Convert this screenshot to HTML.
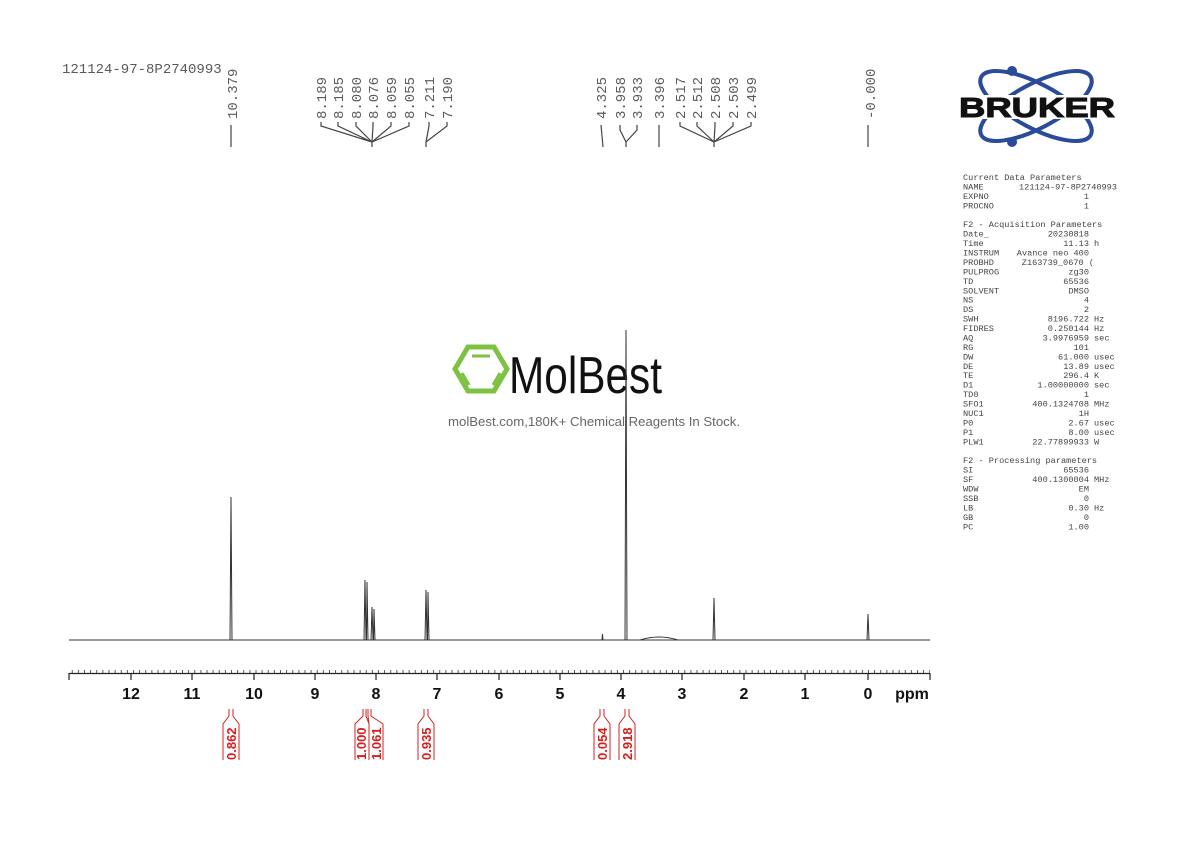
<!DOCTYPE html>
<html><head><meta charset="utf-8"><style>
html,body{margin:0;padding:0;background:#fff;}
svg{display:block;}
.pl{font-family:"Liberation Mono",monospace;font-size:14px;fill:#5a5a5a;}
.pp{font-family:"Liberation Mono",monospace;font-size:8.6px;fill:#444;}
.ax{font-family:"Liberation Sans",sans-serif;font-size:16px;font-weight:bold;fill:#111;}
.ig{font-family:"Liberation Sans",sans-serif;font-size:13px;font-weight:bold;fill:#d42020;}
</style></head><body>
<svg width="1190" height="842" viewBox="0 0 1190 842" xmlns="http://www.w3.org/2000/svg">
<defs>
<pattern id="mt" patternUnits="userSpaceOnUse" x="868" y="0" width="6.125" height="842">
<line x1="0.5" y1="670" x2="0.5" y2="673" stroke="#333" stroke-width="0.8"/>
</pattern>
</defs>
<text x="62" y="73" class="pl">121124-97-8P2740993</text>
<g stroke="#444" stroke-width="1.2" fill="none">
<path d="M231 125V147"/>
<path d="M321 122V126L372 142M338 122V126L372 142M356 122V126L372 142M373 122V126L372 142M391 122V126L372 142M409 122V126L372 142M372 142V147"/>
<path d="M429 122V126L426 142M447 122V126L426 142M426 142V147"/>
<path d="M601 125L603 147"/>
<path d="M620 125V130L626 142M637 125V130L626 142M626 142V147"/>
<path d="M659 125V147"/>
<path d="M680 122V126L714 142M697 122V126L714 142M715 122V126L714 142M733 122V126L714 142M751 122V126L714 142M714 142V147"/>
<path d="M868 125V147"/>
</g>
<g class="pl">
<text transform="translate(237,119) rotate(-90)">10.379</text>
<text transform="translate(326,119) rotate(-90)">8.189</text>
<text transform="translate(343,119) rotate(-90)">8.185</text>
<text transform="translate(361,119) rotate(-90)">8.080</text>
<text transform="translate(378,119) rotate(-90)">8.076</text>
<text transform="translate(396,119) rotate(-90)">8.059</text>
<text transform="translate(414,119) rotate(-90)">8.055</text>
<text transform="translate(434,119) rotate(-90)">7.211</text>
<text transform="translate(452,119) rotate(-90)">7.190</text>
<text transform="translate(606,119) rotate(-90)">4.325</text>
<text transform="translate(625,119) rotate(-90)">3.958</text>
<text transform="translate(642,119) rotate(-90)">3.933</text>
<text transform="translate(664,119) rotate(-90)">3.396</text>
<text transform="translate(685,119) rotate(-90)">2.517</text>
<text transform="translate(702,119) rotate(-90)">2.512</text>
<text transform="translate(720,119) rotate(-90)">2.508</text>
<text transform="translate(738,119) rotate(-90)">2.503</text>
<text transform="translate(756,119) rotate(-90)">2.499</text>
<text transform="translate(875,119) rotate(-90)">-0.000</text>
</g>
<!-- Bruker logo -->
<g>
<ellipse cx="1036" cy="106" rx="62" ry="22" transform="rotate(28 1036 106)" fill="none" stroke="#2a4b9b" stroke-width="4"/>
<ellipse cx="1036" cy="106" rx="62" ry="22" transform="rotate(-28 1036 106)" fill="none" stroke="#2a4b9b" stroke-width="4"/>
<circle cx="1012" cy="71" r="5" fill="#2a4b9b"/>
<circle cx="1012" cy="142" r="5" fill="#2a4b9b"/>
<rect x="958" y="95" width="158" height="24" fill="#fff"/>
<text x="1037" y="117" text-anchor="middle" font-family="Liberation Sans,sans-serif" font-weight="bold" font-size="28" fill="#111" stroke="#111" stroke-width="1" textLength="156" lengthAdjust="spacingAndGlyphs">BRUKER</text>
</g>
<g class="pp">
<text x="963" y="180">Current Data Parameters</text>
<text x="963" y="189.4">NAME</text><text x="1117" y="189.4" text-anchor="end">121124-97-8P2740993</text>
<text x="963" y="198.9">EXPNO</text><text x="1089" y="198.9" text-anchor="end">1</text>
<text x="963" y="208.3">PROCNO</text><text x="1089" y="208.3" text-anchor="end">1</text>
<text x="963" y="227.2">F2 - Acquisition Parameters</text>
<text x="963" y="236.6">Date_</text><text x="1089" y="236.6" text-anchor="end">20230818</text>
<text x="963" y="246.1">Time</text><text x="1089" y="246.1" text-anchor="end">11.13</text><text x="1094" y="246.1">h</text>
<text x="963" y="255.5">INSTRUM</text><text x="1089" y="255.5" text-anchor="end">Avance neo 400</text>
<text x="963" y="265">PROBHD</text><text x="1094" y="265" text-anchor="end">Z163739_0670 (</text>
<text x="963" y="274.4">PULPROG</text><text x="1089" y="274.4" text-anchor="end">zg30</text>
<text x="963" y="283.8">TD</text><text x="1089" y="283.8" text-anchor="end">65536</text>
<text x="963" y="293.3">SOLVENT</text><text x="1089" y="293.3" text-anchor="end">DMSO</text>
<text x="963" y="302.7">NS</text><text x="1089" y="302.7" text-anchor="end">4</text>
<text x="963" y="312.2">DS</text><text x="1089" y="312.2" text-anchor="end">2</text>
<text x="963" y="321.6">SWH</text><text x="1089" y="321.6" text-anchor="end">8196.722</text><text x="1094" y="321.6">Hz</text>
<text x="963" y="331">FIDRES</text><text x="1089" y="331" text-anchor="end">0.250144</text><text x="1094" y="331">Hz</text>
<text x="963" y="340.5">AQ</text><text x="1089" y="340.5" text-anchor="end">3.9976959</text><text x="1094" y="340.5">sec</text>
<text x="963" y="349.9">RG</text><text x="1089" y="349.9" text-anchor="end">101</text>
<text x="963" y="359.4">DW</text><text x="1089" y="359.4" text-anchor="end">61.000</text><text x="1094" y="359.4">usec</text>
<text x="963" y="368.8">DE</text><text x="1089" y="368.8" text-anchor="end">13.89</text><text x="1094" y="368.8">usec</text>
<text x="963" y="378.2">TE</text><text x="1089" y="378.2" text-anchor="end">296.4</text><text x="1094" y="378.2">K</text>
<text x="963" y="387.7">D1</text><text x="1089" y="387.7" text-anchor="end">1.00000000</text><text x="1094" y="387.7">sec</text>
<text x="963" y="397.1">TD0</text><text x="1089" y="397.1" text-anchor="end">1</text>
<text x="963" y="406.6">SFO1</text><text x="1089" y="406.6" text-anchor="end">400.1324708</text><text x="1094" y="406.6">MHz</text>
<text x="963" y="416">NUC1</text><text x="1089" y="416" text-anchor="end">1H</text>
<text x="963" y="425.4">P0</text><text x="1089" y="425.4" text-anchor="end">2.67</text><text x="1094" y="425.4">usec</text>
<text x="963" y="434.9">P1</text><text x="1089" y="434.9" text-anchor="end">8.00</text><text x="1094" y="434.9">usec</text>
<text x="963" y="444.3">PLW1</text><text x="1089" y="444.3" text-anchor="end">22.77899933</text><text x="1094" y="444.3">W</text>
<text x="963" y="463.2">F2 - Processing parameters</text>
<text x="963" y="472.6">SI</text><text x="1089" y="472.6" text-anchor="end">65536</text>
<text x="963" y="482.1">SF</text><text x="1089" y="482.1" text-anchor="end">400.1300004</text><text x="1094" y="482.1">MHz</text>
<text x="963" y="491.5">WDW</text><text x="1089" y="491.5" text-anchor="end">EM</text>
<text x="963" y="501">SSB</text><text x="1089" y="501" text-anchor="end">0</text>
<text x="963" y="510.4">LB</text><text x="1089" y="510.4" text-anchor="end">0.30</text><text x="1094" y="510.4">Hz</text>
<text x="963" y="519.8">GB</text><text x="1089" y="519.8" text-anchor="end">0</text>
<text x="963" y="529.3">PC</text><text x="1089" y="529.3" text-anchor="end">1.00</text>
</g>
<!-- watermark -->
<g>
<polygon points="468,347 494,347 507,369 494,391 468,391 455,369" fill="none" stroke="#7dc242" stroke-width="5"/>
<path d="M472 356H490M462 373L469 385M500 373L493 385" stroke="#7dc242" stroke-width="3" fill="none"/>
<text x="509" y="393" font-family="Liberation Sans Narrow,Liberation Sans,sans-serif" font-size="52" fill="#111" textLength="153" lengthAdjust="spacingAndGlyphs">MolBest</text>
<text x="594" y="426" text-anchor="middle" font-family="Liberation Sans,sans-serif" font-size="12.5" fill="#666" textLength="292" lengthAdjust="spacingAndGlyphs">molBest.com,180K+ Chemical Reagents In Stock.</text>
</g>
<!-- spectrum -->
<g stroke="#333" stroke-width="1" fill="none">
<path d="M69 640H930"/>
<path d="M230 640L231 497L232 640"/>
<path d="M364 640L365 580L366 640M366.5 640L367 582L368 640"/>
<path d="M371 640L372 607L373 640M373.5 640L374 609L375 640"/>
<path d="M425 640L426 590L427 640M427.5 640L428 592L429 640"/>
<path d="M602 640L602.5 634L603 640"/>
<path d="M625 640L626 330L627 640"/>
<path d="M640 640Q659 634 678 640"/>
<path d="M713 640L714 598L715 640"/>
<path d="M867 640L868 614L869 640"/>
</g>
<!-- axis -->
<rect x="69" y="668" width="861" height="6" fill="url(#mt)"/>
<g stroke="#222" stroke-width="1.2">
<line x1="69" y1="673.5" x2="930" y2="673.5"/>
<path d="M69 673V680M930 673V680M131 673V680M192 673V680M254 673V680M315 673V680M376 673V680M437 673V680M499 673V680M560 673V680M621 673V680M682 673V680M744 673V680M805 673V680M868 673V680"/>
</g>
<g class="ax" text-anchor="middle">
<text x="131" y="699">12</text><text x="192" y="699">11</text><text x="254" y="699">10</text>
<text x="315" y="699">9</text><text x="376" y="699">8</text><text x="437" y="699">7</text>
<text x="499" y="699">6</text><text x="560" y="699">5</text><text x="621" y="699">4</text>
<text x="682" y="699">3</text><text x="744" y="699">2</text><text x="805" y="699">1</text>
<text x="868" y="699">0</text><text x="912" y="699">ppm</text>
</g>
<!-- integrals -->
<g stroke="#d42020" stroke-width="1" fill="none">
<path d="M229 709V716L223 724V760M233 709V716L239 724V760"/>
<path d="M363 709V716L355 724V760M366 709V716L369 724V760M368 709V716L369 724M371 709V716L383 724V760"/>
<path d="M424 709V716L418 724V760M428 709V716L434 724V760"/>
<path d="M600 709V716L594 724V760M604 709V716L610 724V760"/>
<path d="M625 709V716L619 724V760M629 709V716L635 724V760"/>
</g>
<g class="ig">
<text transform="translate(236,760) rotate(-90)">0.862</text>
<text transform="translate(366,760) rotate(-90)">1.000</text>
<text transform="translate(381,760) rotate(-90)">1.061</text>
<text transform="translate(431,760) rotate(-90)">0.935</text>
<text transform="translate(607,760) rotate(-90)">0.054</text>
<text transform="translate(632,760) rotate(-90)">2.918</text>
</g>
</svg>
</body></html>
